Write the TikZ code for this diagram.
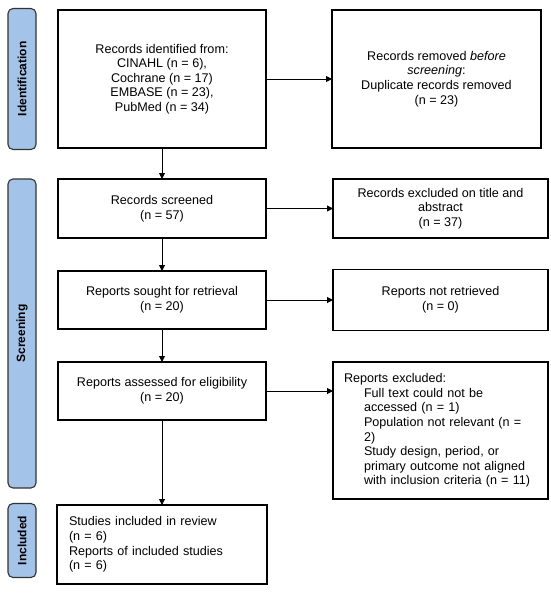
\documentclass[tikz,border=0pt]{standalone}
\usepackage{fontspec}
\setmainfont{Liberation Sans}
\usepackage{xcolor}
\usepackage{graphicx}
\usepackage{tikz}
\usetikzlibrary{arrows.meta,positioning}
\definecolor{phaseblue}{HTML}{A3C4E8}

\begin{document}
\begin{tikzpicture}[node distance=33pt and 67pt,
  box/.style={draw, line width=1.1pt, outer sep=0pt, align=center, font=\fontsize{12.6}{14.6}\selectfont, minimum width=208pt, inner sep=6pt},
  phase/.style={draw=black!80, line width=1.1pt, outer sep=0pt, fill=phaseblue, rounded corners=5pt, minimum width=28pt, inner sep=0pt, font=\fontsize{12}{14}\selectfont\bfseries},
  arr/.style={-{Triangle[length=6pt, width=6pt]}, line width=1pt}]
  \useasboundingbox (0,0) rectangle (550pt,-594pt);
  \node[box, minimum height=138pt, anchor=north west] (ident) at (58pt,-10pt) {Records identified from:\\CINAHL (n = 6),\\Cochrane (n = 17)\\EMBASE (n = 23),\\PubMed (n = 34)};
  \node[box, right=66pt of ident, minimum height=138pt, minimum width=209pt] (removed) {Records removed \textit{before}\\\textit{screening}:\\Duplicate records removed\\(n = 23)};
  \node[box, below=31pt of ident, minimum height=59pt] (screened) {Records screened\\(n = 57)};
  \node[box, right=of screened, minimum width=215pt, minimum height=59pt] (excl) {Records excluded on title and\\abstract\\(n = 37)};
  \node[box, below=of screened, minimum height=58pt] (sought) {Reports sought for retrieval\\(n = 20)};
  \node[box, right=of sought, minimum width=215pt, minimum height=61pt] (notret) {Reports not retrieved\\(n = 0)};
  \node[box, below=of sought, minimum height=58pt] (assessed) {Reports assessed for eligibility\\(n = 20)};
  \node[box, below right=0pt and 67pt of assessed.north east, minimum height=137pt, text width=193pt, inner xsep=11pt, inner ysep=4pt, align=left] (repexcl) {Reports excluded:\\\hspace*{20pt}Full text could not be\\\hspace*{20pt}accessed (n = 1)\\\hspace*{20pt}Population not relevant (n =\\\hspace*{20pt}2)\\\hspace*{20pt}Study design, period, or\\\hspace*{20pt}primary outcome not aligned\\\hspace*{20pt}with inclusion criteria (n = 11)};
  \node[box, below=85pt of assessed, minimum height=79pt, text width=186pt, inner xsep=12pt, inner ysep=4pt, align=left] (included) {Studies included in review\\(n = 6)\\Reports of included studies\\(n = 6)};
  % phase labels
  \node[phase, left=22pt of ident, minimum height=141pt] (idph) {\rotatebox{90}{Identification}};
  \node[phase, anchor=north, minimum height=309pt] (scrph) at (idph.south |- screened.north) {\rotatebox{90}{Screening}};
  \node[phase, minimum height=74pt, yshift=4pt] (incph) at (idph |- included) {\rotatebox{90}{Included}};
  \foreach \a/\b in {ident/screened, screened/sought, sought/assessed, assessed/included}
    \draw[arr] (\a.south) -- (\a.south |- \b.north);
  \foreach \a/\b in {ident/removed, screened/excl, sought/notret, assessed/repexcl}
    \draw[arr] (\a.east) -- (\a.east -| \b.west);
\end{tikzpicture}
\end{document}
